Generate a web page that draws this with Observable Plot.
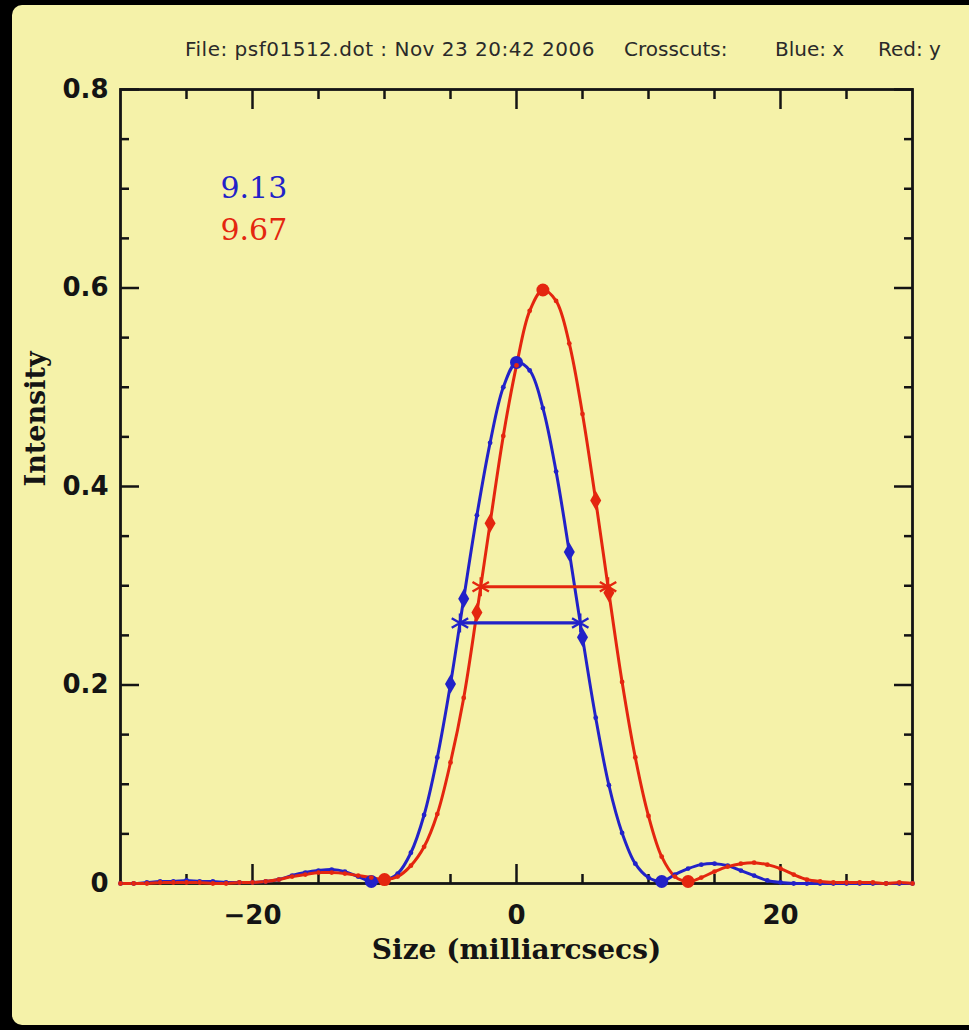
<!DOCTYPE html>
<html><head><meta charset="utf-8">
<script src="https://cdn.jsdelivr.net/npm/d3@7"></script>
<script src="https://cdn.jsdelivr.net/npm/@observablehq/plot@0.6"></script>
<style>
html,body{margin:0;padding:0;background:#000;width:969px;height:1030px;overflow:hidden}
#panel{position:absolute;left:12px;top:5px;width:957px;height:1020px;background:#f5f2a9;border-radius:10px 0 0 10px}
#title{position:absolute;top:39px;left:0;width:969px;height:24px;font-family:"DejaVu Sans";font-size:20px;line-height:20px;color:#2a2a2a;white-space:pre}
#title span{position:absolute;top:0}
#chart{position:absolute;left:0;top:0}
</style></head><body>
<div id="panel"></div>
<div id="title"></div>
<div id="chart"></div>
<script>
// ---- data ----
const titleParts = ["File: psf01512.dot : Nov 23 20:42 2006", "Crosscuts:", "Blue: x", "Red: y"];
const sizes = [-30,-29,-28,-27,-26,-25,-24,-23,-22,-21,-20,-19,-18,-17,-16,-15,-14,-13,-12,-11,-10,-9,-8,-7,-6,-5,-4,-3,-2,-1,0,1,2,3,4,5,6,7,8,9,10,11,12,13,14,15,16,17,18,19,20,21,22,23,24,25,26,27,28,29,30];
const blueX = [0.000,0.000,0.001,0.002,0.002,0.003,0.002,0.002,0.001,0.001,0.001,0.002,0.004,0.008,0.011,0.013,0.014,0.012,0.007,0.002,0.003,0.010,0.031,0.069,0.127,0.201,0.287,0.371,0.444,0.500,0.525,0.517,0.479,0.415,0.334,0.248,0.167,0.099,0.051,0.020,0.006,0.002,0.009,0.015,0.019,0.020,0.018,0.013,0.008,0.003,0.001,0.000,0.000,0.000,0.000,0.000,0.000,0.000,0.000,0.000,0.000];
const redY = [0.000,0.000,0.000,0.001,0.001,0.001,0.001,0.000,0.000,0.001,0.001,0.002,0.004,0.007,0.009,0.011,0.011,0.010,0.008,0.006,0.004,0.007,0.018,0.037,0.070,0.122,0.187,0.273,0.363,0.451,0.522,0.577,0.598,0.587,0.544,0.473,0.386,0.293,0.203,0.127,0.068,0.027,0.007,0.002,0.006,0.012,0.017,0.020,0.021,0.019,0.015,0.009,0.004,0.002,0.001,0.001,0.001,0.001,0.000,0.001,0.000];
const blueBigDots = [-11, 0, 11];
const redBigDots = [-10, 2, 13];
const blueDiamonds = [-5, -4, 4, 5];
const redDiamonds = [-3, -2, 6, 7];
const fwhmLabels = ["9.13", "9.67"];
const xTickValues = [-20, 0, 20];
const xTickLabels = ["\u221220", "0", "20"];
const yTickValues = [0, 0.2, 0.4, 0.6, 0.8];
const yTickLabels = ["0", "0.2", "0.4", "0.6", "0.8"];
const xMinorTicks = [-25,-15,-10,-5,5,10,15,25];
const yMinorTicks = [0.05,0.1,0.15,0.25,0.3,0.35,0.45,0.5,0.55,0.65,0.7,0.75];
const xLabel = "Size (milliarcsecs)";
const yLabel = "Intensity";

// ---- title ----
const titleLefts = [185, 624, 775, 878];
const t = document.getElementById("title");
titleParts.forEach((s, i) => {
  const sp = document.createElement("span");
  sp.textContent = s; sp.style.left = titleLefts[i] + "px";
  if (i === 0) sp.style.letterSpacing = "0.5px";
  t.appendChild(sp);
});

// ---- chart ----
const BLUE = "#2222c8", RED = "#e4260f", INK = "#141414";
const blue = sizes.map((x, i) => ({x, y: blueX[i]}));
const red = sizes.map((x, i) => ({x, y: redY[i]}));
const pick = (series, xs) => xs.map(x => series.find(d => d.x === x));

function fwhm(vals) {
  const peak = d3.max(vals), half = peak / 2, ip = vals.indexOf(peak);
  let i = ip; while (i > 0 && vals[i - 1] >= half) i--;
  const xl = sizes[i - 1] + (half - vals[i - 1]) / (vals[i] - vals[i - 1]) * (sizes[i] - sizes[i - 1]);
  let j = ip; while (j < vals.length - 1 && vals[j + 1] >= half) j++;
  const xr = sizes[j] + (vals[j] - half) / (vals[j] - vals[j + 1]) * (sizes[j + 1] - sizes[j]);
  return [{x: xl, y: half}, {x: xr, y: half}];
}
const blueW = fwhm(blueX), redW = fwhm(redY);

const tickOpts = {tickFormat: () => "", label: null, stroke: INK, strokeWidth: 2.5};
const ticks = (vals, size) => [
  Plot.axisX(vals, {...tickOpts, anchor: "bottom", tickSize: size, dy: -size}),
  Plot.axisX(vals, {...tickOpts, anchor: "top", tickSize: size, dy: size}),
];
const yticks = (vals, size) => [
  Plot.axisY(vals, {...tickOpts, anchor: "left", tickSize: size, dx: size}),
  Plot.axisY(vals, {...tickOpts, anchor: "right", tickSize: size, dx: -size}),
];
const labelFont = {fontSize: 26, fontWeight: "bold", fontFamily: "DejaVu Sans", fill: INK, label: null, tickSize: 0};

const series = (data, color) => [
  Plot.line(data, {x: "x", y: "y", stroke: color, strokeWidth: 3, curve: "catmull-rom"}),
];
const markers = (data, big, dia, w, color) => [
  Plot.dot(data, {x: "x", y: "y", r: 2.4, fill: color}),
  Plot.dot(pick(data, dia), {x: "x", y: "y", symbol: "diamond", r: 5.8, fill: color}),
  Plot.dot(pick(data, big), {x: "x", y: "y", r: 6.5, fill: color}),
  Plot.line(w, {x: "x", y: "y", stroke: color, strokeWidth: 3.2}),
  Plot.dot(w, {x: "x", y: "y", symbol: "asterisk", r: 9, stroke: color, strokeWidth: 2.4}),
];

const chart = Plot.plot({
  width: 969, height: 1030,
  marginLeft: 120, marginRight: 57, marginTop: 89, marginBottom: 147,
  x: {domain: [-30, 30]},
  y: {domain: [0, 0.8]},
  style: {background: "transparent", overflow: "visible"},
  marks: [
    Plot.frame({stroke: INK, strokeWidth: 2.8}),
    ...ticks(xTickValues, 19), ...ticks(xMinorTicks, 9),
    ...yticks(yTickValues, 19), ...yticks(yMinorTicks, 9),
    Plot.axisX(xTickValues, {...labelFont, anchor: "bottom", tickPadding: 22,
      tickFormat: d => xTickLabels[xTickValues.indexOf(d)]}),
    Plot.axisY(yTickValues, {...labelFont, anchor: "left", tickPadding: 12,
      tickFormat: d => yTickLabels[yTickValues.indexOf(d)]}),
    Plot.text([xLabel], {frameAnchor: "bottom", dy: 67, lineAnchor: "middle",
      fontFamily: "DejaVu Serif", fontWeight: "bold", fontSize: 28, fill: INK}),
    Plot.text([yLabel], {frameAnchor: "left", dx: -84, rotate: -90, lineAnchor: "middle",
      fontFamily: "DejaVu Serif", fontWeight: "bold", fontSize: 27, fill: INK}),
    ...series(blue, BLUE), ...series(red, RED),
    ...markers(blue, blueBigDots, blueDiamonds, blueW, BLUE),
    ...markers(red, redBigDots, redDiamonds, redW, RED),
    Plot.text([fwhmLabels[0]], {frameAnchor: "top-left", dx: 100, dy: 99, textAnchor: "start", lineAnchor: "middle",
      fontFamily: "DejaVu Serif", fontSize: 30, fill: BLUE}),
    Plot.text([fwhmLabels[1]], {frameAnchor: "top-left", dx: 100, dy: 141, textAnchor: "start", lineAnchor: "middle",
      fontFamily: "DejaVu Serif", fontSize: 30, fill: RED}),
  ]
});
document.getElementById("chart").appendChild(chart);
</script>
</body></html>
